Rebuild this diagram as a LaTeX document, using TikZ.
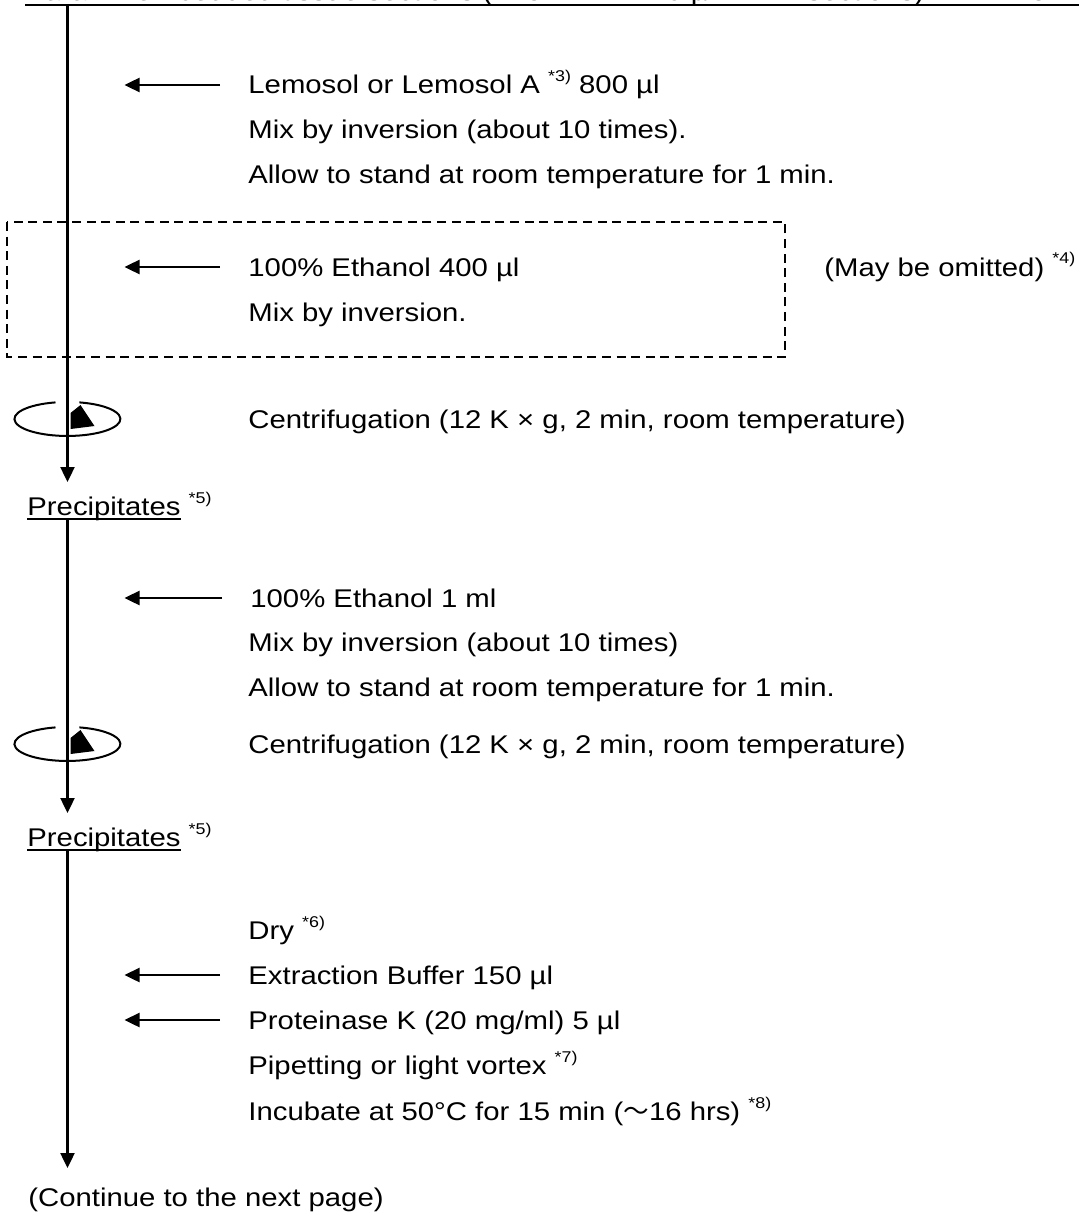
\documentclass[tikz,border=0pt]{standalone}
\usepackage{fontspec}
\setmainfont{Liberation Sans}[FakeStretch=1.145]
\newfontfamily\wavefont{Noto Sans CJK JP}
\usetikzlibrary{arrows.meta,calc}

\newcommand\fnote[1]{\raisebox{6pt}{\fontsize{7.8pt}{7.8pt}\selectfont *#1)}}
\newcommand\ulword[1]{\setbox0\hbox{#1}\rlap{\rule[-2.5pt]{\wd0}{1pt}}\box0\relax}

\tikzset{
  lbl/.style={anchor=base west, inner sep=0pt, font=\fontsize{12.8pt}{15pt}\selectfont},
  flow/.style={line width=1.2pt, -{Triangle[length=7.5pt,width=7pt]}},
  rotor/.style={line width=1pt},
  optbox/.style={line width=0.9pt, dash pattern=on 4.5pt off 2.8pt}
}

\begin{document}
\begin{tikzpicture}[x=0.5pt,y=-0.5pt]
\useasboundingbox (0,0) rectangle (1079,1214);
\coordinate (spine) at (67.5,0);

% sample, Lemosol, optional ethanol
\node[lbl] (title) at (25,1) {\ulword{Paraffin-embedded tissue sections (□25 mm\hspace{0.65em}×\hspace{0.65em}10 µm\hspace{0.65em}×\hspace{0.65em}4 sections)\hspace{2em}in 1.5 ml tube}};
\node[lbl] (lemo) at (248,94) {Lemosol or Lemosol A \fnote{3} 800 µl};
\node[lbl] (mix1) at (248,139) {Mix by inversion (about 10 times).};
\node[lbl] (stand1) at (248,184) {Allow to stand at room temperature for 1 min.};
\node[lbl] (eth1) at (248,276) {100\% Ethanol 400 µl};
\node[lbl] (mix2) at (248,321) {Mix by inversion.};
\node[lbl] (omit) at (824,276) {(May be omitted) \fnote{4}};
\node[lbl] (cent1) at (248,428) {Centrifugation (12 K × g, 2 min, room temperature)};
\node[lbl] (prec1) at (27,515) {\ulword{Precipitates} \fnote{5}};

\draw[optbox] (7,222) rectangle (785,357);

% ethanol wash
\node[lbl] (eth2) at (250,607) {100\% Ethanol 1 ml};
\node[lbl] (mix3) at (248,651) {Mix by inversion (about 10 times)};
\node[lbl] (stand2) at (248,696) {Allow to stand at room temperature for 1 min.};
\node[lbl] (cent2) at (248,753) {Centrifugation (12 K × g, 2 min, room temperature)};
\node[lbl] (prec2) at (27,846) {\ulword{Precipitates} \fnote{5}};

% digestion
\node[lbl] (dry) at (248,939) {Dry \fnote{6}};
\node[lbl] (buffer) at (248,984) {Extraction Buffer 150 µl};
\node[lbl] (protk) at (248,1029) {Proteinase K (20 mg/ml) 5 µl};
\node[lbl] (pipet) at (248,1074) {Pipetting or light vortex \fnote{7}};
\node[lbl] (incub) at (248,1120) {Incubate at 50°C for 15 min ({\wavefont 〜}16 hrs) \fnote{8}};
\node[lbl] (cont) at (28,1206) {(Continue to the next page)};

\foreach \n in {lemo,eth1,eth2,buffer,protk}
  \draw[flow] ($(\n.base west)+(-28,-9)$) -- ($(\n.base -| spine)+(57,-9)$);

\foreach \c in {cent1,cent2}{
  \coordinate (rot) at ($(\c.base -| spine)+(0,-9)$);
  \draw[rotor] ($(rot)+(-12,-16.6)$) arc[start angle=-103, end angle=-437, x radius=53, y radius=17];
  \fill ($(rot)+(13,-14)$) -- ($(rot)+(27,7)$) -- ($(rot)+(3,10)$) -- ($(rot)+(3,-6)$) -- cycle;
}

\draw[flow] ($(title.base -| spine)+(0,3)$) -- ($(prec1.base -| spine)+(0,-33)$);
\draw[flow] ($(prec1.base -| spine)+(0,4)$) -- ($(prec2.base -| spine)+(0,-33)$);
\draw[flow] ($(prec2.base -| spine)+(0,4)$) -- ($(cont.base -| spine)+(0,-38)$);
\end{tikzpicture}
\end{document}
